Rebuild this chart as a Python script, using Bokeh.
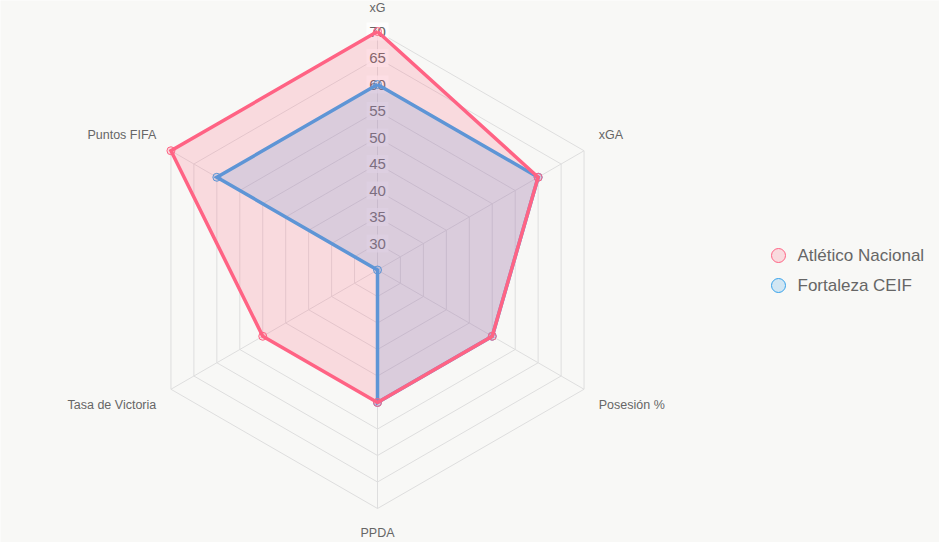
import numpy as np
from bokeh.plotting import figure
from bokeh.models import Range1d
from bokeh.core.properties import value
from bokeh.embed import file_html
from bokeh.resources import INLINE

# ---- data ----
labels = ["xG", "xGA", "Posesión %", "PPDA", "Tasa de Victoria", "Puntos FIFA"]
team_names = ["Atlético Nacional", "Fortaleza CEIF"]
nacional = [70, 60, 50, 50, 50, 70]
fortaleza = [60, 60, 50, 50, 25, 60]
ticks = [30, 35, 40, 45, 50, 55, 60, 65, 70]
scale_min, scale_max = 25, 70

# ---- styling ----
W, H = 939, 542
CX, CY = 377, 269.5
R = 238.5
BG = "#f8f8f6"
GRID = "#dedede"
TXT = "#666666"
FONT = "Liberation Sans"
RED = "#ff6384"
BLUE = "#36a2eb"

p = figure(width=W, height=H, x_range=Range1d(-CX, W - CX), y_range=Range1d(-(H - CY), CY),
           output_backend="svg", toolbar_location=None, min_border=0)
p.axis.visible = False
p.grid.visible = False
p.outline_line_color = None
p.background_fill_color = BG
p.border_fill_color = BG

n = len(labels)
angles = np.arange(n) * 2 * np.pi / n


def radius(v):
    return (np.asarray(v, dtype=float) - scale_min) / (scale_max - scale_min) * R


def to_xy(vals):
    r = radius(vals)
    return r * np.sin(angles), r * np.cos(angles)


# grid rings
ring_xs, ring_ys = [], []
for t in ticks:
    r = radius(t)
    xs = list(r * np.sin(angles)) + [r * np.sin(angles[0])]
    ys = list(r * np.cos(angles)) + [r * np.cos(angles[0])]
    ring_xs.append(xs)
    ring_ys.append(ys)
p.multi_line(ring_xs, ring_ys, line_color=GRID, line_width=1)

# angle lines
p.segment(x0=[0] * n, y0=[0] * n, x1=list(R * np.sin(angles)), y1=list(R * np.cos(angles)),
          line_color=GRID, line_width=1)

# tick labels with backdrop
ty = radius(ticks)
p.rect(x=[0] * len(ticks), y=list(ty), width=22, height=18, width_units="screen", height_units="screen",
       fill_color="white", fill_alpha=0.75, line_color=None)
p.text(x=[0] * len(ticks), y=list(ty), text=[str(t) for t in ticks], text_align="center",
       text_baseline="middle", text_font=value(FONT), text_font_size="15px", text_color=TXT)

# point labels
L = 17
lx = (R + L) * np.sin(angles)
ly = (R + L) * np.cos(angles)
for i, lab in enumerate(labels):
    s, c = np.sin(angles[i]), np.cos(angles[i])
    align = "center" if abs(s) < 0.01 else ("left" if s > 0 else "right")
    base = "bottom" if c > 0.01 else ("top" if c < -0.01 else "middle")
    p.text(x=[lx[i]], y=[ly[i]], text=[lab], text_align=align, text_baseline=base,
           text_font=value(FONT), text_font_size="12.5px", text_color=TXT)

# datasets (Fortaleza first, Nacional on top)
for vals, col in [(fortaleza, BLUE), (nacional, RED)]:
    x, y = to_xy(vals)
    p.patch(list(x), list(y), fill_color=col, fill_alpha=0.2, line_color=None)
    p.line(list(x) + [x[0]], list(y) + [y[0]], line_color=col, line_width=3.5, line_join="miter")
    p.scatter(list(x), list(y), size=8, marker="circle", fill_color=col, fill_alpha=0.2,
              line_color=col, line_width=1)

# legend
leg_x = 778 - CX
leg_ys = [CY - 255, CY - 285]
for name, col, ly_ in zip(team_names, [RED, BLUE], leg_ys):
    p.scatter([leg_x], [ly_], size=14, marker="circle", fill_color=col, fill_alpha=0.2,
              line_color=col, line_width=1)
    p.text(x=[leg_x + 19], y=[ly_], text=[name], text_align="left", text_baseline="middle",
           text_font=value(FONT), text_font_size="17px", text_color=TXT)

open("out.html", "w").write(file_html(p, INLINE))
